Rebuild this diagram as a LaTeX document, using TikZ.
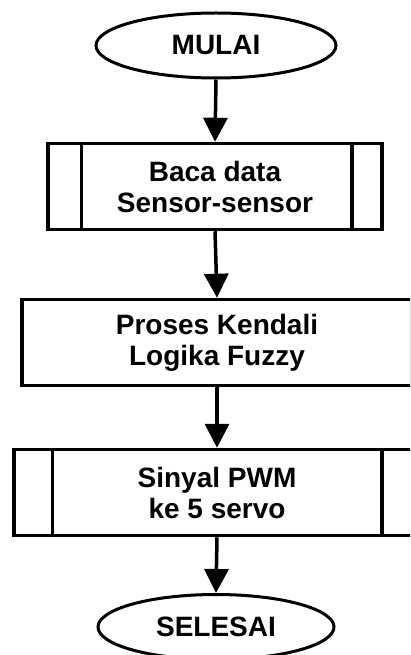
\documentclass[tikz,border=0pt]{standalone}
\usepackage{fontspec}
\setmainfont{Liberation Sans}
\usetikzlibrary{shapes.geometric,arrows.meta}
\tikzset{
  txt/.style={font=\fontsize{28}{31}\selectfont\bfseries, align=center, inner sep=0pt},
  term/.style={txt, ellipse, draw, line width=3pt, minimum width=240pt, minimum height=65pt},
  proc/.style={txt, rectangle, draw, line width=3.5pt, minimum height=86pt},
  conn/.style={line width=3.5pt, -{Triangle[width=24pt,length=24pt]}},
  side/.style={line width=3.5pt}
}
\begin{document}
\begin{tikzpicture}[x=1pt,y=-1pt]
\useasboundingbox (0,0) rectangle (410,655);
\clip (0,0) rectangle (410,655);
\node[term] (start) at (216,45.5) {MULAI};
\node[proc, minimum width=334pt] (b1) at (215,186.5) {Baca data\\Sensor-sensor};
\node[proc, minimum width=390pt] (b2) at (217,342.5) {Proses Kendali\\Logika Fuzzy};
\node[proc, minimum width=406pt] (b3) at (217,492.5) {Sinyal PWM\\ke 5 servo};
\node[term, minimum width=236pt] (end) at (216,627) {SELESAI};
\draw[side] ([xshift=35pt]b1.north west) -- ([xshift=35pt]b1.south west);
\draw[side] ([xshift=-32pt]b1.north east) -- ([xshift=-32pt]b1.south east);
\draw[side] ([xshift=40pt]b3.north west) -- ([xshift=40pt]b3.south west);
\draw[side] ([xshift=-40pt]b3.north east) -- ([xshift=-40pt]b3.south east);
\draw[conn] (start.south) -- (b1.north);
\draw[conn] (b1.south) -- (b2.north);
\draw[conn] (b2.south) -- (b3.north);
\draw[conn] (b3.south) -- (end.north);
\end{tikzpicture}
\end{document}
